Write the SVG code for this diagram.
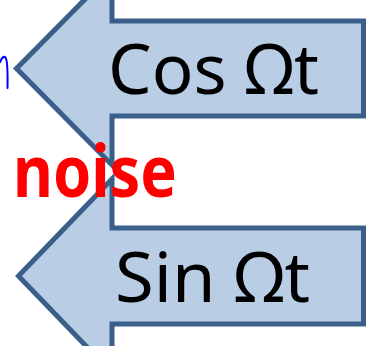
<svg xmlns="http://www.w3.org/2000/svg" width="366" height="346" viewBox="0 0 366 346">
<style>
.arrow{fill:#B9CDE5;stroke:#3A5F8B;stroke-width:5;stroke-linejoin:miter;stroke-miterlimit:10}
.lbl{font-family:"Noto Sans","Open Sans",sans-serif;font-size:69px;fill:#000}
.noise{font-family:"Noto Sans","Liberation Sans",sans-serif;font-weight:bold;font-size:72px;fill:#FF0000}
</style>
<rect width="366" height="346" fill="#fff"/>
<g id="connectors"></g>
<g id="cos">
<path class="arrow" d="M112,-28 L16.5,68.5 L112,165 L112,116 L363.5,116 L363.5,21 L112,21 Z"/>
<text class="lbl" x="108" y="94" textLength="211" lengthAdjust="spacingAndGlyphs">Cos Ωt</text>
</g>
<g id="sin">
<path class="arrow" d="M112,179 L18.5,276 L112,373 L112,324 L363.5,324 L363.5,228 L112,228 Z"/>
<text class="lbl" x="115" y="302" textLength="195" lengthAdjust="spacingAndGlyphs">Sin Ωt</text>
</g>
<g id="ink">
<path d="M0,62 Q3,55 5.5,57.5 Q8,61 7.5,88" fill="none" stroke="#0000FF" stroke-width="2" stroke-linecap="round"/>
</g>
<g id="noise">
<text class="noise" x="13" y="197" textLength="164" lengthAdjust="spacingAndGlyphs">noise</text>
</g>
</svg>
